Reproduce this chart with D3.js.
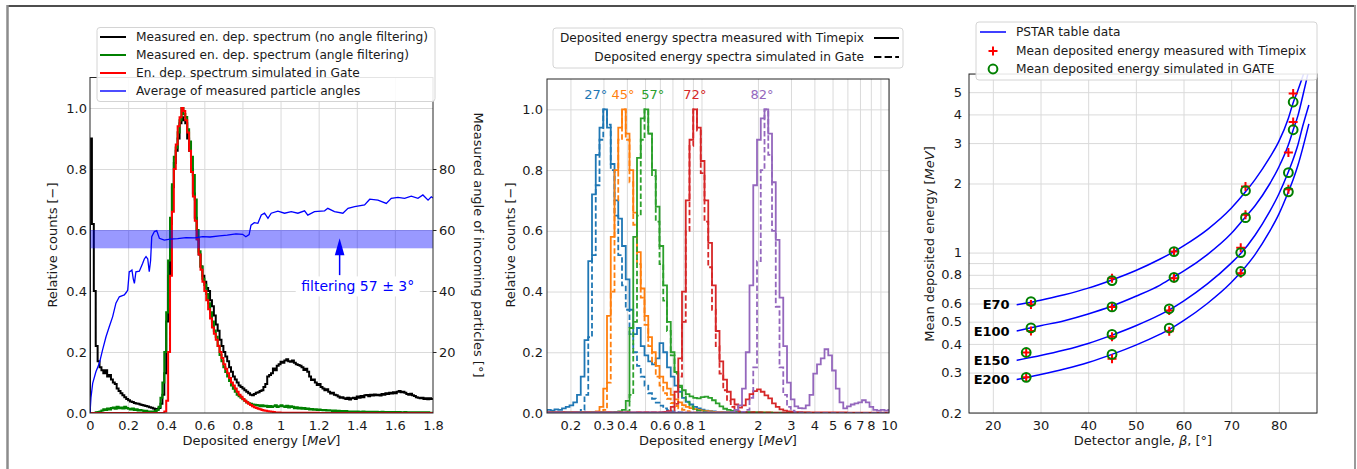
<!DOCTYPE html>
<html><head><meta charset="utf-8">
<script src="https://cdn.jsdelivr.net/npm/d3@7"></script>
<style>
html,body{margin:0;padding:0;background:#fff;}
svg{display:block;font-family:"DejaVu Sans",sans-serif;}
</style></head><body>
<svg id="fig" width="1357" height="469"></svg>
<script>
// ================= DATA =================
// ---- left panel: spectra in 0.01 MeV bins from 0 to 1.8 MeV ----
const leftBinWidth = 0.01;
const spectrumNoFilter = [
 0.9,0.62,0.4,0.22,0.17,0.15,0.14,0.13,0.14,0.12,
 0.125,0.11,0.1,0.095,0.08,0.072,0.065,0.058,0.052,0.046,
 0.042,0.038,0.036,0.033,0.031,0.03,0.028,0.026,0.025,0.023,
 0.021,0.019,0.017,0.015,0.013,0.012,0.016,0.03,0.06,0.13,
 0.3,0.45,0.62,0.74,0.82,0.86,0.9,0.95,0.97,0.96,
 0.95,0.9,0.86,0.8,0.72,0.64,0.57,0.52,0.48,0.45,
 0.43,0.41,0.4,0.37,0.35,0.32,0.29,0.27,0.24,0.22,
 0.2,0.185,0.17,0.15,0.135,0.12,0.11,0.1,0.09,0.085,
 0.08,0.075,0.07,0.065,0.06,0.058,0.062,0.066,0.068,0.072,
 0.075,0.085,0.095,0.12,0.125,0.13,0.146,0.14,0.155,0.16,
 0.168,0.165,0.172,0.176,0.17,0.168,0.172,0.165,0.16,0.157,
 0.155,0.15,0.141,0.145,0.135,0.12,0.108,0.11,0.1,0.092,
 0.095,0.085,0.08,0.075,0.078,0.07,0.064,0.066,0.06,0.058,
 0.054,0.05,0.052,0.048,0.046,0.05,0.044,0.048,0.05,0.046,
 0.054,0.05,0.056,0.052,0.058,0.059,0.055,0.06,0.057,0.061,
 0.058,0.06,0.057,0.062,0.06,0.065,0.062,0.066,0.064,0.068,
 0.065,0.07,0.072,0.068,0.07,0.066,0.062,0.06,0.063,0.058,
 0.056,0.052,0.05,0.048,0.05,0.046,0.048,0.045,0.048,0.046];
const spectrumFilter = [
 0,0,0,0.002,0.003,0.005,0.008,0.012,0.01,0.015,
 0.012,0.016,0.018,0.014,0.02,0.016,0.018,0.015,0.02,0.016,
 0.014,0.012,0.015,0.01,0.012,0.008,0.01,0.008,0.006,0.007,
 0.005,0.005,0.004,0.005,0.006,0.01,0.02,0.05,0.1,0.2,
 0.33,0.5,0.64,0.75,0.84,0.87,0.92,0.96,1.0,0.98,
 0.97,0.93,0.89,0.84,0.78,0.7,0.6,0.53,0.48,0.44,
 0.42,0.39,0.36,0.33,0.3,0.27,0.25,0.22,0.19,0.17,
 0.15,0.135,0.12,0.105,0.09,0.08,0.07,0.06,0.055,0.05,
 0.045,0.04,0.035,0.032,0.03,0.028,0.027,0.026,0.025,0.022,
 0.025,0.022,0.024,0.02,0.023,0.02,0.022,0.025,0.02,0.022,
 0.025,0.022,0.02,0.024,0.018,0.022,0.02,0.016,0.019,0.015,
 0.017,0.014,0.016,0.013,0.015,0.012,0.013,0.011,0.012,0.01,
 0.011,0.01,0.009,0.01,0.008,0.009,0.008,0.007,0.008,0.006,
 0.007,0.006,0.006,0.005,0.006,0.005,0.005,0.004,0.005,0.004,
 0.005,0.004,0.004,0.005,0.004,0.004,0.003,0.004,0.004,0.003,
 0.004,0.003,0.003,0.004,0.003,0.003,0.003,0.002,0.003,0.003,
 0.003,0.002,0.003,0.002,0.002,0.003,0.002,0.002,0.002,0.002,
 0.002,0.002,0.002,0.001,0.002,0.002,0.001,0.002,0.001,0.001];
const spectrumGate = [
 0,0,0,0,0,0,0,0,0,0,
 0,0,0,0,0,0,0,0,0,0,
 0,0,0,0,0,0,0,0,0,0,
 0,0,0,0,0,0,0,0,0,0.005,
 0.04,0.2,0.45,0.66,0.8,0.88,0.94,0.97,1.0,0.99,
 0.96,0.92,0.86,0.79,0.71,0.63,0.57,0.52,0.47,0.43,
 0.4,0.37,0.34,0.31,0.28,0.26,0.24,0.22,0.2,0.18,
 0.16,0.145,0.13,0.115,0.1,0.09,0.08,0.07,0.06,0.053,
 0.046,0.04,0.035,0.03,0.026,0.022,0.019,0.016,0.014,0.012,
 0.01,0.008,0.007,0.006,0.005,0.004,0.003,0.002,0.002,0.002,
 0.001,0.001,0.001,0.001,0.001,0.001,0.001,0.001,0.001,0.001,
 0.001,0.001,0.001,0.001,0.001,0.001,0.001,0.001,0.001,0.001,
 0,0,0,0,0,0,0,0,0,0,
 0,0,0,0,0,0,0,0,0,0,
 0,0,0,0,0,0,0,0,0,0,
 0,0,0,0,0,0,0,0,0,0,
 0,0,0,0,0,0,0,0,0,0,
 0,0,0,0,0,0,0,0,0,0];
// average measured angle [deg] vs deposited energy [MeV]
const angleCurve = [
 [0,0],[0.005,5],[0.014,9.7],[0.031,13.5],[0.049,16.3],[0.066,20.7],[0.084,25],[0.101,28.3],
 [0.119,31.6],[0.136,36],[0.154,38.1],[0.17,38.5],[0.18,38.7],[0.19,39.5],[0.198,40.3],[0.206,46.3],
 [0.213,46.5],[0.22,46.9],[0.227,44],[0.233,42.5],[0.241,46.3],[0.259,46.5],[0.276,49],[0.285,50.5],
 [0.294,51.3],[0.303,50.5],[0.311,46.3],[0.318,50],[0.324,57.8],[0.338,59.5],[0.35,59.8],[0.364,57.3],
 [0.39,56.7],[0.42,57],[0.46,57.2],[0.504,57.5],[0.55,57.4],[0.591,57.8],[0.63,57.7],[0.679,58.1],
 [0.72,58.3],[0.766,58.7],[0.801,58.6],[0.818,57.8],[0.835,58.5],[0.845,61.6],[0.862,62.4],[0.881,62.2],
 [0.899,64.9],[0.916,65.5],[0.934,63.8],[0.951,65.5],[0.986,66.2],[1.021,65.5],[1.056,66],[1.091,65.5],
 [1.126,66.3],[1.143,64.9],[1.178,66],[1.231,66.3],[1.248,67.1],[1.283,66],[1.327,65.5],[1.354,67.1],
 [1.389,67.7],[1.441,68.2],[1.468,70.1],[1.511,69.8],[1.555,68.7],[1.581,70.4],[1.616,70.7],[1.651,70.4],
 [1.686,71.1],[1.721,70.4],[1.747,71.5],[1.774,69.8],[1.791,70.9],[1.8,70.5]];
const filterBand = [54, 60];           // 57 +/- 3 deg
const filterArrow = [1.31, 45.2, 57.3]; // energy, tail angle, tip angle
const filterText = [1.405, 41.5, "filtering 57 ± 3°"];
const leftXTicks = [0,0.2,0.4,0.6,0.8,1.0,1.2,1.4,1.6,1.8];
const leftXTickLabels = ["0","0.2","0.4","0.6","0.8","1","1.2","1.4","1.6","1.8"];
const leftYTicks = [0,0.2,0.4,0.6,0.8,1.0];
const leftYTickLabels = ["0.0","0.2","0.4","0.6","0.8","1.0"];
const angleTicks = [20,40,60,80];
const leftLegend = ["Measured en. dep. spectrum (no angle filtering)",
                    "Measured en. dep. spectrum (angle filtering)",
                    "En. dep. spectrum simulated in Gate",
                    "Average of measured particle angles"];

// ---- middle panel: spectra in log bins (50 per decade from 0.15 MeV) ----
const midEmin = 0.15, midBinsPerDecade = 50;
const blueMeas = [
 0.01,0.008,0.012,0.01,0.015,0.02,0.025,0.035,0.06,0.12,
 0.24,0.5,0.72,0.85,0.94,1.0,0.94,0.82,0.7,0.64,
 0.55,0.44,0.34,0.26,0.28,0.22,0.19,0.17,0.16,0.18,
 0.23,0.2,0.15,0.12,0.09,0.07,0.05,0.037,0.028,0.02,
 0.015,0.011,0.008,0.006,0.005,0.004,0.004,0.003,0.003,0.002,
 0.002,0.002,0.003,0.002,0.002,0.001,0.002,0.001,0.001,0.001,
 0.001,0.001,0.001,0.001,0.001,0.001,0.001,0.001,0.001,0.001,
 0,0,0,0,0,0,0,0,0,0,
 0,0,0,0,0,0,0,0,0,0,
 0,0];
const blueSim = [
 0,0,0,0,0,0,0,0,0.002,0.01,
 0.06,0.25,0.52,0.75,0.9,1.0,0.95,0.8,0.65,0.52,
 0.42,0.34,0.26,0.2,0.155,0.12,0.09,0.065,0.047,0.034,
 0.024,0.015,0.009,0.005,0.003,0.002,0.001,0,0,0,
 0,0,0,0,0,0,0,0,0,0,
 0,0,0,0,0,0,0,0,0,0,
 0,0,0,0,0,0,0,0,0,0,
 0,0,0,0,0,0,0,0,0,0,
 0,0,0,0,0,0,0,0,0,0,
 0,0];
const orangeMeas = [
 0.003,0.002,0.003,0.004,0.003,0.002,0.003,0.004,0.003,0.003,
 0.004,0.003,0.004,0.005,0.02,0.08,0.32,0.58,0.8,0.94,
 1.0,0.92,0.8,0.66,0.53,0.41,0.32,0.25,0.2,0.155,
 0.12,0.1,0.08,0.06,0.045,0.035,0.026,0.02,0.016,0.013,
 0.01,0.008,0.006,0.005,0.004,0.003,0.003,0.002,0.003,0.002,
 0.002,0.002,0.002,0.002,0.002,0.002,0.002,0.002,0.002,0.002,
 0.001,0.001,0.001,0.001,0.001,0.001,0.001,0.001,0.001,0.001,
 0,0,0,0,0,0,0,0,0,0,
 0,0,0,0,0,0,0,0,0,0,
 0,0];
const orangeSim = [
 0,0,0,0,0,0,0,0,0,0,
 0,0,0,0,0.001,0.01,0.1,0.4,0.7,0.9,
 1.0,0.9,0.76,0.62,0.49,0.38,0.29,0.22,0.165,0.12,
 0.09,0.065,0.047,0.033,0.023,0.015,0.01,0.006,0.003,0.002,
 0,0,0,0,0,0,0,0,0,0,
 0,0,0,0,0,0,0,0,0,0,
 0,0,0,0,0,0,0,0,0,0,
 0,0,0,0,0,0,0,0,0,0,
 0,0,0,0,0,0,0,0,0,0,
 0,0];
const greenMeas = [
 0.002,0.003,0.002,0.003,0.002,0.003,0.002,0.002,0.003,0.002,
 0.003,0.002,0.003,0.002,0.003,0.003,0.002,0.003,0.004,0.005,
 0.01,0.04,0.28,0.58,0.84,0.97,1.0,0.92,0.8,0.68,
 0.55,0.42,0.3,0.2,0.135,0.09,0.075,0.062,0.055,0.05,
 0.048,0.052,0.054,0.05,0.042,0.032,0.022,0.014,0.01,0.007,
 0.005,0.004,0.003,0.003,0.002,0.002,0.002,0.001,0.001,0.001,
 0,0,0,0,0,0,0,0,0,0,
 0,0,0,0,0,0,0,0,0,0,
 0,0,0,0,0,0,0,0,0,0,
 0,0];
const greenSim = [
 0,0,0,0,0,0,0,0,0,0,
 0,0,0,0,0,0,0,0,0,0,
 0,0.005,0.06,0.3,0.65,0.9,1.0,0.92,0.78,0.63,
 0.49,0.37,0.27,0.19,0.13,0.085,0.055,0.035,0.022,0.014,
 0.008,0.005,0.003,0.002,0.001,0,0,0,0,0,
 0,0,0,0,0,0,0,0,0,0,
 0,0,0,0,0,0,0,0,0,0,
 0,0,0,0,0,0,0,0,0,0,
 0,0,0,0,0,0,0,0,0,0,
 0,0];
const redMeas = [
 0.003,0.002,0.003,0.002,0.003,0.002,0.002,0.003,0.002,0.002,
 0.003,0.002,0.002,0.003,0.002,0.002,0.003,0.002,0.002,0.003,
 0.002,0.003,0.002,0.002,0.003,0.002,0.003,0.002,0.003,0.002,
 0.003,0.004,0.006,0.02,0.07,0.18,0.4,0.7,0.9,1.0,
 0.94,0.83,0.7,0.56,0.42,0.27,0.17,0.11,0.07,0.045,
 0.028,0.018,0.025,0.045,0.062,0.072,0.078,0.07,0.058,0.048,
 0.032,0.02,0.012,0.008,0.005,0.004,0.003,0.003,0.002,0.002,
 0.002,0.002,0.002,0.002,0.002,0.002,0.002,0.002,0.002,0.002,
 0.001,0.001,0.001,0.001,0.001,0.001,0.001,0.001,0.001,0.001,
 0.001,0.001];
const redSim = [
 0,0,0,0,0,0,0,0,0,0,
 0,0,0,0,0,0,0,0,0,0,
 0,0,0,0,0,0,0,0,0,0,
 0,0,0.002,0.008,0.03,0.12,0.3,0.6,0.88,1.0,
 0.93,0.79,0.63,0.48,0.34,0.22,0.13,0.075,0.04,0.02,
 0.01,0.005,0.003,0.002,0.002,0.003,0.002,0.002,0.001,0.001,
 0,0,0,0,0,0,0,0,0,0,
 0,0,0,0,0,0,0,0,0,0,
 0,0,0,0,0,0,0,0,0,0,
 0,0];
const purpleMeas = [
 0.002,0.001,0.002,0.002,0.001,0.002,0.001,0.002,0.002,0.001,
 0.002,0.001,0.002,0.002,0.001,0.002,0.001,0.002,0.002,0.001,
 0.002,0.001,0.002,0.002,0.001,0.002,0.001,0.002,0.002,0.001,
 0.002,0.001,0.002,0.002,0.001,0.002,0.001,0.002,0.002,0.001,
 0.002,0.001,0.002,0.002,0.001,0.002,0.001,0.002,0.002,0.003,
 0.01,0.025,0.08,0.2,0.42,0.75,0.9,0.97,1.0,0.92,
 0.76,0.57,0.38,0.22,0.1,0.045,0.022,0.016,0.015,0.025,
 0.06,0.13,0.16,0.18,0.21,0.19,0.14,0.08,0.035,0.015,
 0.022,0.028,0.032,0.035,0.042,0.035,0.02,0.01,0.008,0.01,
 0.008,0.01];
const purpleSim = [
 0,0,0,0,0,0,0,0,0,0,
 0,0,0,0,0,0,0,0,0,0,
 0,0,0,0,0,0,0,0,0,0,
 0,0,0,0,0,0,0,0,0,0,
 0,0,0,0,0,0,0,0,0,0,
 0.001,0.002,0.004,0.01,0.05,0.15,0.5,0.8,1.0,0.85,
 0.6,0.35,0.15,0.06,0.02,0.008,0.003,0.001,0,0,
 0,0,0,0,0,0,0,0,0,0,
 0,0,0,0,0,0,0,0,0,0,
 0,0];
const midColors = ["#1f77b4","#ff7f0e","#2ca02c","#d62728","#9467bd"];
const midMeasured = [blueMeas, orangeMeas, greenMeas, redMeas, purpleMeas];
const midSimulated = [blueSim, orangeSim, greenSim, redSim, purpleSim];
const midAngleLabels = ["27°","45°","57°","72°","82°"];
const midAngleLabelE = [0.273, 0.381, 0.55, 0.922, 2.1];
const midXTicks = [0.2,0.3,0.4,0.6,0.8,1,2,3,4,5,6,7,8,10];
const midXTickLabels = ["0.2","0.3","0.4","0.6","0.8","1","2","3","4","5","6","7","8","10"];
const midGridX = [0.2,0.3,0.4,0.5,0.6,0.7,0.8,0.9,1,2,3,4,5,6,7,8,9,10];
const midLegend = ["Deposited energy spectra measured with Timepix",
                   "Deposited energy spectra simulated in Gate"];

// ---- right panel: mean deposited energy vs detector angle ----
const pstarE70  = [[25,0.592],[28,0.607],[30,0.62],[35,0.655],[40,0.70],[45,0.76],[50,0.835],[55,0.935],[58,1.01],[60,1.07],[65,1.26],[70,1.56],[73,1.84],[75,2.08],[78,2.58],[80,3.05],[82,3.85],[83,4.5],[84,5.1],[85,5.85],[86,6.8]];
const pstarE100 = [[25,0.455],[28,0.47],[30,0.48],[35,0.505],[40,0.54],[45,0.585],[50,0.645],[55,0.72],[58,0.785],[60,0.83],[65,0.98],[70,1.21],[73,1.43],[75,1.6],[78,1.98],[80,2.36],[82,2.95],[83,3.42],[84,3.95],[85,4.8],[86,5.9],[86.5,6.6]];
const pstarE150 = [[25,0.339],[27,0.346],[30,0.356],[35,0.376],[40,0.402],[45,0.437],[50,0.48],[55,0.535],[57,0.563],[60,0.615],[65,0.73],[70,0.9],[72,0.99],[75,1.19],[78,1.5],[80,1.8],[82,2.25],[83,2.55],[84,2.95],[85,3.55],[86.3,4.4]];
const pstarE200 = [[25,0.28],[27,0.285],[30,0.294],[35,0.311],[40,0.332],[45,0.36],[50,0.395],[55,0.44],[57,0.462],[60,0.505],[65,0.6],[70,0.74],[72,0.82],[75,0.98],[78,1.23],[80,1.47],[82,1.84],[83,2.08],[84,2.4],[85,2.85],[86.3,3.64]];
const measE70  = [[28,0.594],[45,0.773],[58,1.01],[73,1.94],[83,4.93]];
const simE70   = [[28,0.612],[45,0.755],[58,1.01],[73,1.86],[83,4.53]];
const measE100 = [[28,0.455],[45,0.58],[58,0.773],[73,1.46],[83,3.71]];
const simE100  = [[28,0.47],[45,0.58],[58,0.78],[73,1.42],[83,3.43]];
const measE150 = [[27,0.367],[45,0.43],[57,0.56],[72,1.05],[82,2.73]];
const simE150  = [[27,0.367],[45,0.44],[57,0.569],[72,1.0],[82,2.23]];
const measE200 = [[27,0.286],[45,0.345],[57,0.454],[72,0.813],[82,1.89]];
const simE200  = [[27,0.286],[45,0.36],[57,0.469],[72,0.827],[82,1.84]];
const energyNames = ["E70","E100","E150","E200"];
const pstarCurves = [pstarE70, pstarE100, pstarE150, pstarE200];
const measuredPts = [measE70, measE100, measE150, measE200];
const simulatedPts = [simE70, simE100, simE150, simE200];
const rightXTicks = [20,30,40,50,60,70,80];
const rightYTicks = [0.2,0.3,0.4,0.5,0.6,0.8,1,2,3,4,5];
const rightYTickLabels = ["0.2","0.3","0.4","0.5","0.6","0.8","1","2","3","4","5"];
const rightGridY = [0.2,0.3,0.4,0.5,0.6,0.7,0.8,0.9,1,2,3,4,5,6];
const rightLegend = ["PSTAR table data","Mean deposited energy measured with Timepix","Mean deposited energy simulated in GATE"];

// ================= DRAWING =================
const FONT = "DejaVu Sans, sans-serif";
const TXT = "#1a1a1a", GRID = "#dadada", SPINE = "#262626";
const svg = d3.select("#fig");
svg.append("rect").attr("width",1357).attr("height",469).attr("fill","#fff");
// outer frame
svg.append("line").attr("x1",7).attr("x2",1356).attr("y1",6).attr("y2",6).attr("stroke","#4d4d4d").attr("stroke-width",2);
svg.append("line").attr("x1",7.5).attr("x2",7.5).attr("y1",5).attr("y2",469).attr("stroke","#8c8c8c").attr("stroke-width",2.5);
svg.append("line").attr("x1",1355).attr("x2",1355).attr("y1",5).attr("y2",469).attr("stroke","#9a9a9a").attr("stroke-width",2);

const defs = svg.append("defs");
function clip(id, b){ defs.append("clipPath").attr("id",id).append("rect").attr("x",b.x0).attr("y",b.y0).attr("width",b.x1-b.x0).attr("height",b.y1-b.y0); return `url(#${id})`; }
function gridAxis(g, axis){ g.call(axis); g.select(".domain").remove(); g.selectAll("text").remove(); g.selectAll("line").attr("stroke",GRID).attr("stroke-width",1); }
function labelAxis(g, axis, size){ g.call(axis); g.select(".domain").remove(); g.attr("font-family",FONT).attr("font-size",size).style("color",TXT); }
function spines(g, b){ g.append("rect").attr("x",b.x0).attr("y",b.y0).attr("width",b.x1-b.x0).attr("height",b.y1-b.y0).attr("fill","none").attr("stroke",SPINE).attr("stroke-width",1); }
function stepPoints(vals, edge){ const p=[[edge(0),0]]; vals.forEach((v,i)=>p.push([edge(i),v])); p.push([edge(vals.length),vals[vals.length-1]]); return p; }
function legendBox(g,x,y,w,h){ g.append("rect").attr("x",x).attr("y",y).attr("width",w).attr("height",h).attr("rx",3).attr("fill","#fff").attr("fill-opacity",0.88).attr("stroke","#d4d4d4").attr("stroke-width",1); }
function txt(g,x,y,s,size,anchor){ return g.append("text").attr("x",x).attr("y",y).attr("font-family",FONT).attr("font-size",size).attr("fill",TXT).attr("text-anchor",anchor||"start").attr("dominant-baseline","central").text(s); }

// ---------- LEFT PANEL ----------
{
 const B = {x0:90, x1:433, y0:77.5, y1:413};
 const x = d3.scaleLinear([0,1.8],[B.x0,B.x1]);
 const y = d3.scaleLinear([0,1.1],[B.y1,B.y0]);
 const ya = d3.scaleLinear([0,110],[B.y1,B.y0]);
 const g = svg.append("g");
 g.append("g").attr("transform",`translate(0,${B.y1})`).call(s=>gridAxis(s,d3.axisBottom(x).tickValues(leftXTicks.slice(1,-1)).tickSize(-(B.y1-B.y0))));
 g.append("g").attr("transform",`translate(${B.x0},0)`).call(s=>gridAxis(s,d3.axisLeft(y).tickValues(leftYTicks.slice(1)).tickSize(-(B.x1-B.x0))));
 const cp = clip("clipL",B);
 const pl = g.append("g").attr("clip-path",cp);
 const edge = i => i*leftBinWidth;
 const line = d3.line().x(d=>x(d[0])).y(d=>y(d[1])).curve(d3.curveStepAfter);
 pl.append("path").attr("d",line(stepPoints(spectrumNoFilter,edge))).attr("fill","none").attr("stroke","#000").attr("stroke-width",2);
 pl.append("path").attr("d",line(stepPoints(spectrumFilter,edge))).attr("fill","none").attr("stroke","#008000").attr("stroke-width",2.1);
 pl.append("path").attr("d",line(stepPoints(spectrumGate,edge))).attr("fill","none").attr("stroke","#ff0000").attr("stroke-width",2);
 pl.append("rect").attr("x",B.x0).attr("width",B.x1-B.x0).attr("y",ya(filterBand[1])).attr("height",ya(filterBand[0])-ya(filterBand[1])).attr("fill","#0000ff").attr("fill-opacity",0.4);
 const aline = d3.line().x(d=>x(d[0])).y(d=>ya(d[1]));
 pl.append("path").attr("d",aline(angleCurve)).attr("fill","none").attr("stroke","#0000ff").attr("stroke-width",1.3);
 // annotation
 const ax = x(filterArrow[0]), ay0 = ya(filterArrow[1]), ay1 = ya(filterArrow[2]);
 g.append("line").attr("x1",ax).attr("x2",ax).attr("y1",ay0).attr("y2",ay1+15).attr("stroke","#0000ff").attr("stroke-width",1.5);
 g.append("path").attr("d",`M${ax},${ay1} L${ax-4.8},${ay1+17} L${ax+4.8},${ay1+17} Z`).attr("fill","#0000ff");
 const tx = x(filterText[0]), ty = ya(filterText[1]);
 g.append("rect").attr("x",tx-62).attr("y",ty-10).attr("width",124).attr("height",20).attr("fill","#fff");
 txt(g,tx,ty,filterText[2],14,"middle").attr("fill","#0000ff");
 spines(g,B);
 // axes labels
 g.append("g").attr("transform",`translate(0,${B.y1})`).call(s=>labelAxis(s,d3.axisBottom(x).tickValues(leftXTicks).tickFormat((d,i)=>leftXTickLabels[i]).tickSize(0).tickPadding(8),13));
 g.append("g").attr("transform",`translate(${B.x0},0)`).call(s=>labelAxis(s,d3.axisLeft(y).tickValues(leftYTicks).tickFormat((d,i)=>leftYTickLabels[i]).tickSize(0).tickPadding(3),13));
 g.append("g").attr("transform",`translate(${B.x1},0)`).call(s=>{labelAxis(s,d3.axisRight(ya).tickValues(angleTicks).tickSize(3.5).tickPadding(2.5),13); s.selectAll("line").attr("stroke",SPINE);});
 const xl = g.append("text").attr("x",(B.x0+B.x1)/2).attr("y",445).attr("text-anchor","middle").attr("font-family",FONT).attr("font-size",13).attr("fill",TXT);
 xl.append("tspan").text("Deposited energy ["); xl.append("tspan").attr("font-style","italic").text("MeV"); xl.append("tspan").text("]");
 g.append("text").attr("transform",`translate(57,245) rotate(-90)`).attr("text-anchor","middle").attr("font-family",FONT).attr("font-size",13).attr("fill",TXT).text("Relative counts [−]");
 g.append("text").attr("transform",`translate(474,245) rotate(90)`).attr("text-anchor","middle").attr("font-family",FONT).attr("font-size",13).attr("fill",TXT).text("Measured angle of incoming particles [°]");
 // legend
 legendBox(g,97,27.5,338,74);
 const cols = ["#000","#008000","#ff0000","#0000ff"], rows=[37,55,73,91];
 leftLegend.forEach((s,i)=>{
   g.append("line").attr("x1",100).attr("x2",126).attr("y1",rows[i]).attr("y2",rows[i]).attr("stroke",cols[i]).attr("stroke-width",i==3?1.4:2);
   txt(g,136,rows[i],s,12.2);
 });
}

// ---------- MIDDLE PANEL ----------
{
 const B = {x0:547, x1:889, y0:79, y1:413};
 const x = d3.scaleLog([0.15,10],[B.x0,B.x1]);
 const y = d3.scaleLinear([0,1.1],[B.y1,B.y0]);
 const g = svg.append("g");
 g.append("g").attr("transform",`translate(0,${B.y1})`).call(s=>gridAxis(s,d3.axisBottom(x).tickValues(midGridX).tickSize(-(B.y1-B.y0))));
 g.append("g").attr("transform",`translate(${B.x0},0)`).call(s=>gridAxis(s,d3.axisLeft(y).tickValues(leftYTicks.slice(1)).tickSize(-(B.x1-B.x0))));
 const pl = g.append("g").attr("clip-path",clip("clipM",B));
 const edge = k => midEmin*Math.pow(10,k/midBinsPerDecade);
 const line = d3.line().x(d=>x(d[0])).y(d=>y(d[1])).curve(d3.curveStepAfter);
 midColors.forEach((c,i)=>{
   pl.append("path").attr("d",line(stepPoints(midSimulated[i],edge))).attr("fill","none").attr("stroke",c).attr("stroke-width",1.8).attr("stroke-dasharray","5.5,2.6");
   pl.append("path").attr("d",line(stepPoints(midMeasured[i],edge))).attr("fill","none").attr("stroke",c).attr("stroke-width",1.8);
 });
 midAngleLabels.forEach((s,i)=>txt(g,x(midAngleLabelE[i]),y(1.05),s,13,"middle").attr("fill",midColors[i]));
 spines(g,B);
 g.append("g").attr("transform",`translate(0,${B.y1})`).call(s=>labelAxis(s,d3.axisBottom(x).tickValues(midXTicks).tickFormat((d,i)=>midXTickLabels[i]).tickSize(0).tickPadding(8),13));
 g.append("g").attr("transform",`translate(${B.x0},0)`).call(s=>labelAxis(s,d3.axisLeft(y).tickValues(leftYTicks).tickFormat((d,i)=>leftYTickLabels[i]).tickSize(0).tickPadding(4),13));
 const xl = g.append("text").attr("x",(B.x0+B.x1)/2).attr("y",445).attr("text-anchor","middle").attr("font-family",FONT).attr("font-size",13).attr("fill",TXT);
 xl.append("tspan").text("Deposited energy ["); xl.append("tspan").attr("font-style","italic").text("MeV"); xl.append("tspan").text("]");
 g.append("text").attr("transform",`translate(515,245) rotate(-90)`).attr("text-anchor","middle").attr("font-family",FONT).attr("font-size",13).attr("fill",TXT).text("Relative counts [−]");
 legendBox(g,553,28,350,40);
 const rows=[38,57];
 midLegend.forEach((s,i)=>{
   txt(g,864,rows[i],s,12.2,"end");
   const l = g.append("line").attr("x1",874).attr("x2",899).attr("y1",rows[i]).attr("y2",rows[i]).attr("stroke","#000").attr("stroke-width",2);
   if(i==1) l.attr("stroke-dasharray","7.4,3.2");
 });
}

// ---------- RIGHT PANEL ----------
{
 const B = {x0:969, x1:1317, y0:74, y1:413};
 const x = d3.scaleLinear([15,88],[B.x0,B.x1]);
 const y = d3.scaleLog([0.2,6],[B.y1,B.y0]);
 const g = svg.append("g");
 g.append("g").attr("transform",`translate(0,${B.y1})`).call(s=>gridAxis(s,d3.axisBottom(x).tickValues(rightXTicks).tickSize(-(B.y1-B.y0))));
 g.append("g").attr("transform",`translate(${B.x0},0)`).call(s=>gridAxis(s,d3.axisLeft(y).tickValues(rightGridY).tickSize(-(B.x1-B.x0))));
 const pl = g.append("g").attr("clip-path",clip("clipR",B));
 const line = d3.line().x(d=>x(d[0])).y(d=>y(d[1])).curve(d3.curveMonotoneX);
 pstarCurves.forEach(c=>pl.append("path").attr("d",line(c)).attr("fill","none").attr("stroke","#0000ff").attr("stroke-width",1.5));
 const plus = (px,py)=>`M${px-4.5},${py}H${px+4.5}M${px},${py-4.5}V${py+4.5}`;
 measuredPts.forEach(arr=>arr.forEach(d=>pl.append("path").attr("d",plus(x(d[0]),y(d[1]))).attr("stroke","#ff0000").attr("stroke-width",2).attr("fill","none")));
 simulatedPts.forEach(arr=>arr.forEach(d=>pl.append("circle").attr("cx",x(d[0])).attr("cy",y(d[1])).attr("r",4.4).attr("stroke","#008000").attr("stroke-width",2).attr("fill","none")));
 energyNames.forEach((s,i)=>txt(g,x(pstarCurves[i][0][0])-7,y(pstarCurves[i][0][1]),s,13,"end").attr("font-weight","bold").attr("fill","#000"));
 spines(g,B);
 g.append("g").attr("transform",`translate(0,${B.y1})`).call(s=>labelAxis(s,d3.axisBottom(x).tickValues(rightXTicks).tickSize(0).tickPadding(8),13));
 g.append("g").attr("transform",`translate(${B.x0},0)`).call(s=>labelAxis(s,d3.axisLeft(y).tickValues(rightYTicks).tickFormat((d,i)=>rightYTickLabels[i]).tickSize(0).tickPadding(7),13));
 const xl = g.append("text").attr("x",(B.x0+B.x1)/2).attr("y",445).attr("text-anchor","middle").attr("font-family",FONT).attr("font-size",13).attr("fill",TXT);
 xl.append("tspan").text("Detector angle, "); xl.append("tspan").attr("font-style","italic").text("β"); xl.append("tspan").text(", [°]");
 const yl = g.append("text").attr("transform",`translate(934,244) rotate(-90)`).attr("text-anchor","middle").attr("font-family",FONT).attr("font-size",13).attr("fill",TXT);
 yl.append("tspan").text("Mean deposited energy ["); yl.append("tspan").attr("font-style","italic").text("MeV"); yl.append("tspan").text("]");
 legendBox(g,976,22,341,58);
 const rows=[32,51,69];
 g.append("line").attr("x1",980).attr("x2",1006).attr("y1",rows[0]).attr("y2",rows[0]).attr("stroke","#0000ff").attr("stroke-width",1.5);
 g.append("path").attr("d",plus(993,rows[1])).attr("stroke","#ff0000").attr("stroke-width",2);
 g.append("circle").attr("cx",993).attr("cy",rows[2]).attr("r",4.4).attr("stroke","#008000").attr("stroke-width",2).attr("fill","none");
 rightLegend.forEach((s,i)=>txt(g,1016,rows[i],s,12.2));
}
</script>
</body></html>
